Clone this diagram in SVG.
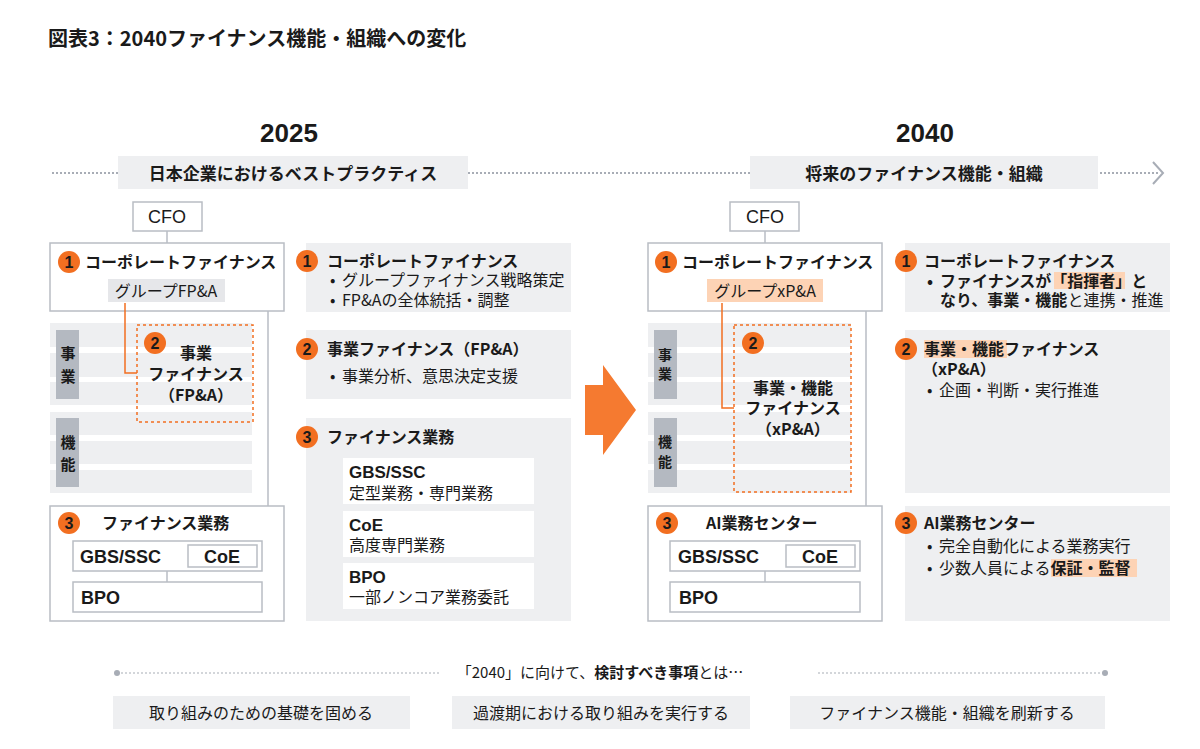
<svg xmlns="http://www.w3.org/2000/svg" width="1200" height="749" viewBox="0 0 1200 749">
<style>
text{font-family:"Noto Sans CJK JP","Liberation Sans",sans-serif;fill:#1a1a1a;font-size:16px}
.b{font-weight:bold}
.box{fill:#fff;stroke:#b9bdc4;stroke-width:1.5}
.pan{fill:#eeeff1}
.str{fill:#eeeff1}
.bar{fill:#b4b9c1}
.circ{fill:#f26f21}
.cn{fill:#1a1a1a;font-weight:bold;font-size:16px;text-anchor:middle;font-family:"Liberation Sans",Arial,sans-serif}
.ln{stroke:#b9bdc4;stroke-width:1.5;fill:none}
.or{stroke:#f26f21;stroke-width:1.5;fill:none}
.dash{fill:none;stroke:#f26f21;stroke-width:1.5;stroke-dasharray:3 3}
.hl{fill:#fdd3b5}
.m{text-anchor:middle}
.en{font-family:"Liberation Sans",Arial,sans-serif}
</style>
<text x="48" y="46" class="b" style="font-size:20px">図表3：2040ファイナンス機能・組織への変化</text>
<text x="289" y="142" class="b m en" style="font-size:26px">2025</text>
<text x="925" y="142" class="b m en" style="font-size:26px">2040</text>
<g id="timeline">
<line x1="52" y1="173" x2="1158" y2="173" stroke="#a8adb6" stroke-width="2" stroke-dasharray="2 2"/>
<polyline points="1153,162 1163,173 1153,184" fill="none" stroke="#a8adb6" stroke-width="2"/>
<rect x="118" y="156" width="350" height="33" fill="#eeeff1"/>
<text x="293" y="180" class="b m" style="font-size:17px">日本企業におけるベストプラクティス</text>
<rect x="750" y="156" width="348" height="33" fill="#eeeff1"/>
<text x="924" y="180" class="b m" style="font-size:17px">将来のファイナンス機能・組織</text>
</g>
<g id="left-org">
<rect class="box" x="133" y="202" width="69" height="29"/>
<text x="167" y="223" class="m en" style="font-size:18px">CFO</text>
<rect class="box" x="50" y="243" width="234" height="68"/>
<circle class="circ" cx="69" cy="262" r="11"/><text x="69" y="268" class="cn">1</text>
<text x="85" y="268" class="b">コーポレートファイナンス</text>
<rect x="108" y="279" width="117" height="23" fill="#e6e7ea"/>
<text x="166" y="297" class="m">グループFP&amp;A</text>
<rect class="str" x="50" y="323" width="202" height="24"/>
<rect class="str" x="50" y="353" width="202" height="24"/>
<rect class="str" x="50" y="382" width="202" height="23"/>
<rect class="str" x="50" y="412" width="202" height="23"/>
<rect class="str" x="50" y="441" width="202" height="23"/>
<rect class="str" x="50" y="470" width="202" height="23"/>
<rect class="bar" x="56" y="330" width="23" height="69"/>
<rect class="bar" x="56" y="418" width="23" height="69"/>
<text x="68" y="359" class="b m" style="font-size:15px">事</text>
<text x="68" y="382" class="b m" style="font-size:15px">業</text>
<text x="68" y="448" class="b m" style="font-size:15px">機</text>
<text x="68" y="470" class="b m" style="font-size:15px">能</text>
<rect class="dash" x="137" y="325" width="116" height="97"/>
<circle class="circ" cx="155" cy="343" r="11"/><text x="155" y="349" class="cn">2</text>
<text x="196" y="359" class="b m">事業</text>
<text x="196" y="380" class="b m">ファイナンス</text>
<text x="196" y="401" class="b m">（FP&amp;A）</text>
<rect class="box" x="50" y="506" width="234" height="115"/>
<circle class="circ" cx="69" cy="523" r="11"/><text x="69" y="529" class="cn">3</text>
<text x="102" y="529" class="b">ファイナンス業務</text>
<rect class="box" x="73" y="541" width="189" height="30"/>
<rect class="box" x="188" y="545" width="69" height="22"/>
<text x="80" y="563" class="b en" style="font-size:18px">GBS/SSC</text>
<text x="222" y="563" class="b m en" style="font-size:18px">CoE</text>
<rect class="box" x="73" y="582" width="189" height="30"/>
<text x="81" y="604" class="b en" style="font-size:18px">BPO</text>
</g>
<g id="left-panels">
<rect class="pan" x="306" y="243" width="265" height="69"/>
<circle class="circ" cx="307" cy="261" r="11"/><text x="307" y="267" class="cn">1</text>
<text x="327" y="267" class="b">コーポレートファイナンス</text>
<text x="330" y="286">•</text><text x="342" y="286">グループファイナンス戦略策定</text>
<text x="330" y="306">•</text><text x="342" y="306">FP&amp;Aの全体統括・調整</text>
<rect class="pan" x="306" y="330" width="265" height="69"/>
<circle class="circ" cx="307" cy="349" r="11"/><text x="307" y="355" class="cn">2</text>
<text x="327" y="355" class="b">事業ファイナンス（FP&amp;A）</text>
<text x="330" y="382">•</text><text x="342" y="382">事業分析、意思決定支援</text>
<rect class="pan" x="306" y="418" width="265" height="203"/>
<circle class="circ" cx="307" cy="437" r="11"/><text x="307" y="443" class="cn">3</text>
<text x="327" y="443" class="b">ファイナンス業務</text>
<rect x="343" y="458" width="191" height="46" fill="#fff"/>
<text x="349" y="478" class="b en" style="font-size:17px">GBS/SSC</text>
<text x="349" y="499">定型業務・専門業務</text>
<rect x="343" y="511" width="191" height="46" fill="#fff"/>
<text x="349" y="531" class="b en" style="font-size:17px">CoE</text>
<text x="349" y="551">高度専門業務</text>
<rect x="343" y="563" width="191" height="46" fill="#fff"/>
<text x="349" y="583" class="b en" style="font-size:17px">BPO</text>
<text x="349" y="603">一部ノンコア業務委託</text>
</g>
<g id="arrow">
<polygon points="585,385 603,385 603,365 636,410 603,455 603,435 585,435" fill="#f57a30"/>
</g>
<g id="right-org">
<rect class="box" x="730" y="202" width="69" height="29"/>
<text x="765" y="223" class="m en" style="font-size:18px">CFO</text>
<rect class="box" x="648" y="243" width="234" height="68"/>
<circle class="circ" cx="666" cy="262" r="11"/><text x="666" y="268" class="cn">1</text>
<text x="682" y="268" class="b">コーポレートファイナンス</text>
<rect class="hl" x="707" y="279" width="116" height="23"/>
<text x="765" y="297" class="m">グループxP&amp;A</text>
<rect class="str" x="648" y="323" width="203" height="24"/>
<rect class="str" x="648" y="353" width="203" height="24"/>
<rect class="str" x="648" y="382" width="203" height="23"/>
<rect class="str" x="648" y="412" width="203" height="23"/>
<rect class="str" x="648" y="441" width="203" height="23"/>
<rect class="str" x="648" y="470" width="203" height="23"/>
<rect class="bar" x="654" y="330" width="23" height="69"/>
<rect class="bar" x="654" y="418" width="23" height="69"/>
<text x="665" y="360" class="b m" style="font-size:14px">事</text>
<text x="665" y="379" class="b m" style="font-size:14px">業</text>
<text x="665" y="447" class="b m" style="font-size:14px">機</text>
<text x="665" y="467" class="b m" style="font-size:14px">能</text>
<rect class="dash" x="734" y="325" width="117" height="167"/>
<circle class="circ" cx="753" cy="343" r="11"/><text x="753" y="349" class="cn">2</text>
<text x="793" y="394" class="b m">事業・機能</text>
<text x="793" y="414" class="b m">ファイナンス</text>
<text x="793" y="435" class="b m">（xP&amp;A）</text>
<rect class="box" x="648" y="506" width="234" height="115"/>
<circle class="circ" cx="667" cy="523" r="11"/><text x="667" y="529" class="cn">3</text>
<text x="706" y="529" class="b">AI業務センター</text>
<rect class="box" x="670" y="541" width="190" height="30"/>
<rect class="box" x="786" y="545" width="69" height="22"/>
<text x="678" y="563" class="b en" style="font-size:18px">GBS/SSC</text>
<text x="820" y="563" class="b m en" style="font-size:18px">CoE</text>
<rect class="box" x="670" y="582" width="190" height="30"/>
<text x="679" y="604" class="b en" style="font-size:18px">BPO</text>
</g>
<g id="right-panels">
<rect class="pan" x="905" y="243" width="265" height="69"/>
<circle class="circ" cx="906" cy="261" r="11"/><text x="906" y="267" class="cn">1</text>
<text x="924" y="267" class="b">コーポレートファイナンス</text>
<rect class="hl" x="1054" y="272" width="71" height="17"/>
<text x="927" y="287" class="b">•</text><text x="940" y="287" class="b">ファイナンスが「指揮者」と</text>
<text x="940" y="306"><tspan class="b">なり、事業・機能</tspan>と連携・推進</text>
<rect class="pan" x="905" y="330" width="265" height="163"/>
<circle class="circ" cx="906" cy="349" r="11"/><text x="906" y="355" class="cn">2</text>
<rect class="hl" x="924" y="340" width="83" height="18"/>
<text x="924" y="355" class="b">事業・機能ファイナンス</text>
<text x="922" y="375" class="b">（xP&amp;A）</text>
<text x="927" y="396">•</text><text x="939" y="396">企画・判断・実行推進</text>
<rect class="pan" x="905" y="506" width="265" height="115"/>
<circle class="circ" cx="906" cy="523" r="11"/><text x="906" y="529" class="cn">3</text>
<text x="924" y="529" class="b">AI業務センター</text>
<text x="927" y="552">•</text><text x="939" y="552">完全自動化による業務実行</text>
<rect class="hl" x="1051" y="559" width="86" height="18"/>
<text x="927" y="574">•</text><text x="939" y="574">少数人員による<tspan class="b">保証・監督</tspan></text>
</g>
<g id="connectors">
<line class="ln" x1="167" y1="231" x2="167" y2="243"/>
<line class="ln" x1="268" y1="311" x2="268" y2="506"/>
<line class="ln" x1="167" y1="571" x2="167" y2="582"/>
<polyline class="or" points="125,303 125,373 137,373"/>
<line class="ln" x1="765" y1="231" x2="765" y2="243"/>
<line class="ln" x1="866" y1="311" x2="866" y2="506"/>
<line class="ln" x1="765" y1="571" x2="765" y2="582"/>
<polyline class="or" points="722,303 722,408 734,408"/>
</g>
<g id="bottom">
<line x1="117" y1="673" x2="440" y2="673" stroke="#a8adb6" stroke-width="1.2" stroke-dasharray="2 2"/>
<line x1="818" y1="673" x2="1105" y2="673" stroke="#a8adb6" stroke-width="1.2" stroke-dasharray="2 2"/>
<circle cx="117" cy="673" r="3" fill="#a8adb6"/>
<circle cx="1105" cy="673" r="3" fill="#a8adb6"/>
<text x="600" y="678" class="m" style="font-size:15px">「2040」に向けて、<tspan class="b">検討すべき事項</tspan>とは…</text>
<rect x="113" y="696" width="297" height="33" fill="#eeeff1"/>
<text x="261" y="719" class="m">取り組みのための基礎を固める</text>
<rect x="452" y="696" width="298" height="33" fill="#eeeff1"/>
<text x="601" y="719" class="m">過渡期における取り組みを実行する</text>
<rect x="790" y="696" width="315" height="33" fill="#eeeff1"/>
<text x="947" y="719" class="m">ファイナンス機能・組織を刷新する</text>
</g>
</svg>
